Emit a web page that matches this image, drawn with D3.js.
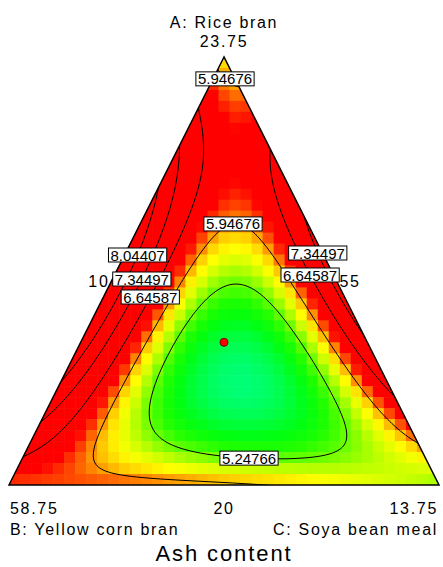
<!DOCTYPE html>
<html>
<head>
<meta charset="utf-8">
<script src="https://cdn.jsdelivr.net/npm/d3@7"></script>
<style>
  body { margin: 0; background: #fff; }
  text { font-family: Arial, "Liberation Sans", sans-serif; fill: #000; }
</style>
</head>
<body>
<svg width="443" height="567"></svg>
<script>
// components and their ranges (actual units)
const componentNames = ['A: Rice bran', 'B: Yellow corn bran', 'C: Soya bean meal'];
const lowLevels = [20, 55, 10];
const highLevels = [23.75, 58.75, 13.75];
const responseName = 'Ash content';

// fitted surface, L-pseudo components (a, b, c)
const linearCoef = [5.75, 6.05, 5.35];     // A, B, C
const quadCoef = [7.66, 3.554, 1.3];       // AB, AC, BC
const cubicCoef = [-1.5, -1.447, 0];       // AB(A-B), AC(A-C), BC(B-C)
const quarticCoef = [15.7, 18.31, 0];      // A2B2, A2C2, B2C2
const ternaryCoef = [-105, -78, -78, 84];  // A2BC, AB2C, ABC2, A3BC

const contourLevels = [5.24766, 5.94676, 6.64587, 7.34497, 8.04407];
const designPoints = [[1 / 3, 1 / 3, 1 / 3]];

// where the labels sit on their contour (pseudo a, b, c)
const labelHints = [
  { level: 5.94676, at: [0.946, 0.032, 0.022] },
  { level: 5.94676, at: [0.624, 0.169, 0.207] },
  { level: 8.04407, at: [0.542, 0.441, 0.017] },
  { level: 7.34497, at: [0.486, 0.459, 0.055] },
  { level: 6.64587, at: [0.446, 0.458, 0.096] },
  { level: 7.34497, at: [0.544, 0.005, 0.451] },
  { level: 6.64587, at: [0.495, 0.046, 0.459] },
  { level: 5.24766, at: [0.077, 0.401, 0.522] },
];

const SVG = d3.select('svg');
const X = d3.scaleLinear().domain([0, 1]).range([9, 439]);
const Y = d3.scaleLinear().domain([0, 1]).range([485, 57]);
const toXY = ([a, b, c]) => [X(c + a / 2), Y(a)];
const fromXY = (px, py) => {
  const a = Y.invert(py);
  const c = X.invert(px) - a / 2;
  return [a, 1 - a - c, c];
};

function model([a, b, c]) {
  let v = linearCoef[0] * a + linearCoef[1] * b + linearCoef[2] * c;
  [[a, b], [a, c], [b, c]].forEach(([p, q], i) => {
    v += quadCoef[i] * p * q + cubicCoef[i] * p * q * (p - q) + quarticCoef[i] * p * p * q * q;
  });
  const [k1, k2, k3, k4] = ternaryCoef;
  v += a * b * c * (k1 * a + k2 * b + k3 * c + k4 * a * a);
  return v;
}

const color = d3.scaleLinear()
  .domain([4.35, 4.6, 4.85, 5.05, 5.25, 5.5, 5.68, 5.85, 5.95, 6.1, 6.25])
  .range(['#00ff90', '#00ff50', '#00ff10', '#20ff00', '#66ff00', '#ccff00', '#ffff00',
    '#ffcc00', '#ff9900', '#ff4400', '#ff0000'])
  .clamp(true);

const CORNERS = [[1, 0, 0], [0, 1, 0], [0, 0, 1]].map(toXY);

SVG.append('clipPath').attr('id', 'tri')
  .append('path').attr('d', 'M' + CORNERS.join('L') + 'Z');

// pseudo-colour cells
const cols = 39, rows = 39;
const cw = 430 / cols, ch = 428 / rows;
const cells = [];
for (let j = 0; j < rows; j++) {
  for (let i = 0; i < cols; i++) {
    const px = 9 + (i + 0.5) * cw, py = 57 + (j + 0.5) * ch;
    cells.push({ i, j, v: model(fromXY(px, py)) });
  }
}
const plot = SVG.append('g').attr('clip-path', 'url(#tri)');
plot.selectAll('rect').data(cells).join('rect')
  .attr('x', (d) => 9 + d.i * cw)
  .attr('y', (d) => 57 + d.j * ch)
  .attr('width', cw + 0.6)
  .attr('height', ch + 0.6)
  .attr('fill', (d) => color(d.v));

// contour lines
const step = 2, gx0 = -1, gy0 = 47;
const nx = 227, ny = 226;
const values = new Array(nx * ny);
for (let j = 0; j < ny; j++) {
  for (let i = 0; i < nx; i++) values[j * nx + i] = model(fromXY(gx0 + i * step, gy0 + j * step));
}
const contours = d3.contours().size([nx, ny]).thresholds(contourLevels)(values);
const path = d3.geoPath(d3.geoIdentity().scale(step).translate([gx0 - step / 2, gy0 - step / 2]));
plot.selectAll('path.iso').data(contours).join('path')
  .attr('class', 'iso')
  .attr('d', path)
  .attr('fill', 'none')
  .attr('stroke', '#000')
  .attr('stroke-width', 1);

// triangle border
SVG.append('path')
  .attr('d', 'M' + CORNERS.join('L') + 'Z')
  .attr('fill', 'none')
  .attr('stroke', '#000')
  .attr('stroke-width', 1.5);

// design point
SVG.selectAll('circle').data(designPoints).join('circle')
  .attr('cx', (d) => toXY(d)[0])
  .attr('cy', (d) => toXY(d)[1])
  .attr('r', 4)
  .attr('fill', '#ff0000')
  .attr('stroke', '#700')
  .attr('stroke-width', 1);

// contour labels
const inside = ([px, py]) => {
  const [a, b, c] = fromXY(px, py);
  return a > 0.01 && b > 0.005 && c > 0.005;
};
labelHints.forEach((h) => {
  const geo = contours.find((d) => d.value === h.level);
  const [hx, hy] = toXY(h.at);
  let best = null, bestD = Infinity;
  geo.coordinates.forEach((poly) => poly.forEach((ring) => ring.forEach(([cx, cy]) => {
    const p = [gx0 + (cx - 0.5) * step, gy0 + (cy - 0.5) * step];
    if (!inside(p)) return;
    const dd = (p[0] - hx) ** 2 + (p[1] - hy) ** 2;
    if (dd < bestD) { bestD = dd; best = p; }
  })));
  if (!best) return;
  const g = SVG.append('g').attr('transform', `translate(${best[0]},${best[1]})`);
  const rect = g.append('rect');
  const t = g.append('text')
    .text(h.level.toFixed(5))
    .attr('text-anchor', 'middle')
    .attr('y', 5.5)
    .style('font-size', '15px');
  const w = t.node().getComputedTextLength();
  rect.attr('x', -w / 2 - 2).attr('y', -7).attr('width', w + 4).attr('height', 14)
    .attr('fill', '#fff').attr('stroke', '#000').attr('stroke-width', 1);
});

// axis texts
const axisText = (txt, px, py, anchor, size, spacing) => SVG.append('text')
  .text(txt).attr('x', px).attr('y', py)
  .attr('text-anchor', anchor)
  .style('font-size', size + 'px')
  .style('letter-spacing', spacing + 'px');

const [TOP, LEFT, RIGHT] = CORNERS;
axisText(componentNames[0], TOP[0], 28, 'middle', 16, 1.7);
axisText(String(highLevels[0]), TOP[0], 47, 'middle', 16, 1.7);
axisText(String(highLevels[1]), LEFT[0] + 1, 514, 'start', 16, 1.7);
axisText(String(lowLevels[0]), X(0.5), 514, 'middle', 16, 1.7);
axisText(String(highLevels[2]), RIGHT[0] - 1, 514, 'end', 16, 1.7);
axisText(componentNames[1], LEFT[0] + 1, 535, 'start', 16, 1.7);
axisText(componentNames[2], RIGHT[0] - 1, 535, 'end', 16, 1.7);
axisText(String(lowLevels[2]), toXY([0.5, 0.5, 0])[0] - 7, Y(0.5) + 16, 'end', 16, 1.7);
axisText(String(lowLevels[1]), toXY([0.5, 0, 0.5])[0] + 8, Y(0.5) + 16, 'start', 16, 1.7);
axisText(responseName, X(0.5), 561, 'middle', 22, 1.9);
</script>
</body>
</html>
